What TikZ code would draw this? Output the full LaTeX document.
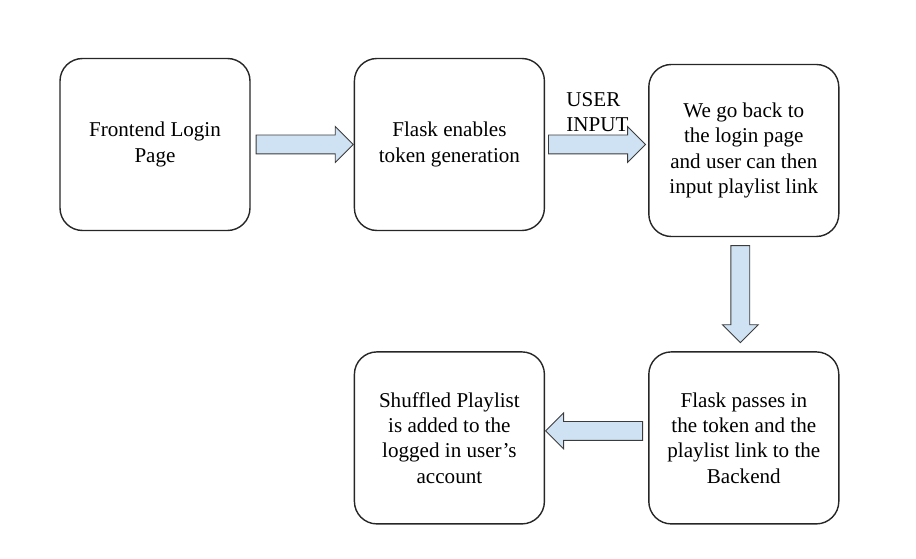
\documentclass[tikz,border=0pt]{standalone}
\usepackage{fontspec}
\setmainfont{Liberation Serif}
\usetikzlibrary{positioning, shapes.arrows}
\definecolor{arrowblue}{HTML}{CFE2F3}
\definecolor{edgegray}{HTML}{3C3C3C}

\begin{document}
\begin{tikzpicture}[
    node distance=20.6mm,
    stepbox/.style={
        rectangle,
        rounded corners=4.5mm,
        draw=black!85,
        line width=0.8pt,
        minimum width=3.8cm,
        minimum height=3.44cm,
        align=center,
        font=\fontsize{12}{14.4}\selectfont
    },
    flow/.style={
        single arrow,
        draw=edgegray,
        line width=0.5pt,
        fill=arrowblue,
        minimum height=1.94cm,
        minimum width=0.7cm,
        single arrow head extend=0.17cm,
        inner xsep=0pt,
        inner ysep=0.18cm,
        sloped,
        allow upside down,
        pos=0,
        anchor=tail
    },
    tag/.style={
        align=left,
        inner sep=0pt,
        font=\fontsize{12}{14.4}\selectfont
    }
]
\useasboundingbox (0,0) rectangle (18.32,-11.18);

\node[stepbox] (login) at (3.1,-2.89) {Frontend Login\\Page};
\node[stepbox, right=of login] (token) {Flask enables\\token generation};
\node[stepbox, right=of token, yshift=-1.2mm] (back) {We go back to\\the login page\\and user can then\\input playlist link};
\node[stepbox, below=22.8mm of back] (pass) {Flask passes in\\the token and the\\playlist link to the\\Backend};
\node[stepbox, left=of pass] (shuffle) {Shuffled Playlist\\is added to the\\logged in user’s\\account};

% block arrows between the steps
\path ([xshift=1mm]login.east) -- (token.west) node[flow] (a1) {};
\path ([xshift=0.6mm]token.east) -- (token.east -| back.west) node[flow] (a2) {};
\path ([shift={(-0.7mm,-1.6mm)}]back.south) -- ([xshift=-0.7mm]pass.north) node[flow] (a3) {};
\path ([shift={(-1mm,1.4mm)}]pass.west) -- ([yshift=1.4mm]shuffle.east) node[flow] (a4) {};

\node[tag, anchor=south west] (input) at ([xshift=3.6mm, yshift=2.4mm]a2.tail) {USER\\INPUT};

\end{tikzpicture}
\end{document}
